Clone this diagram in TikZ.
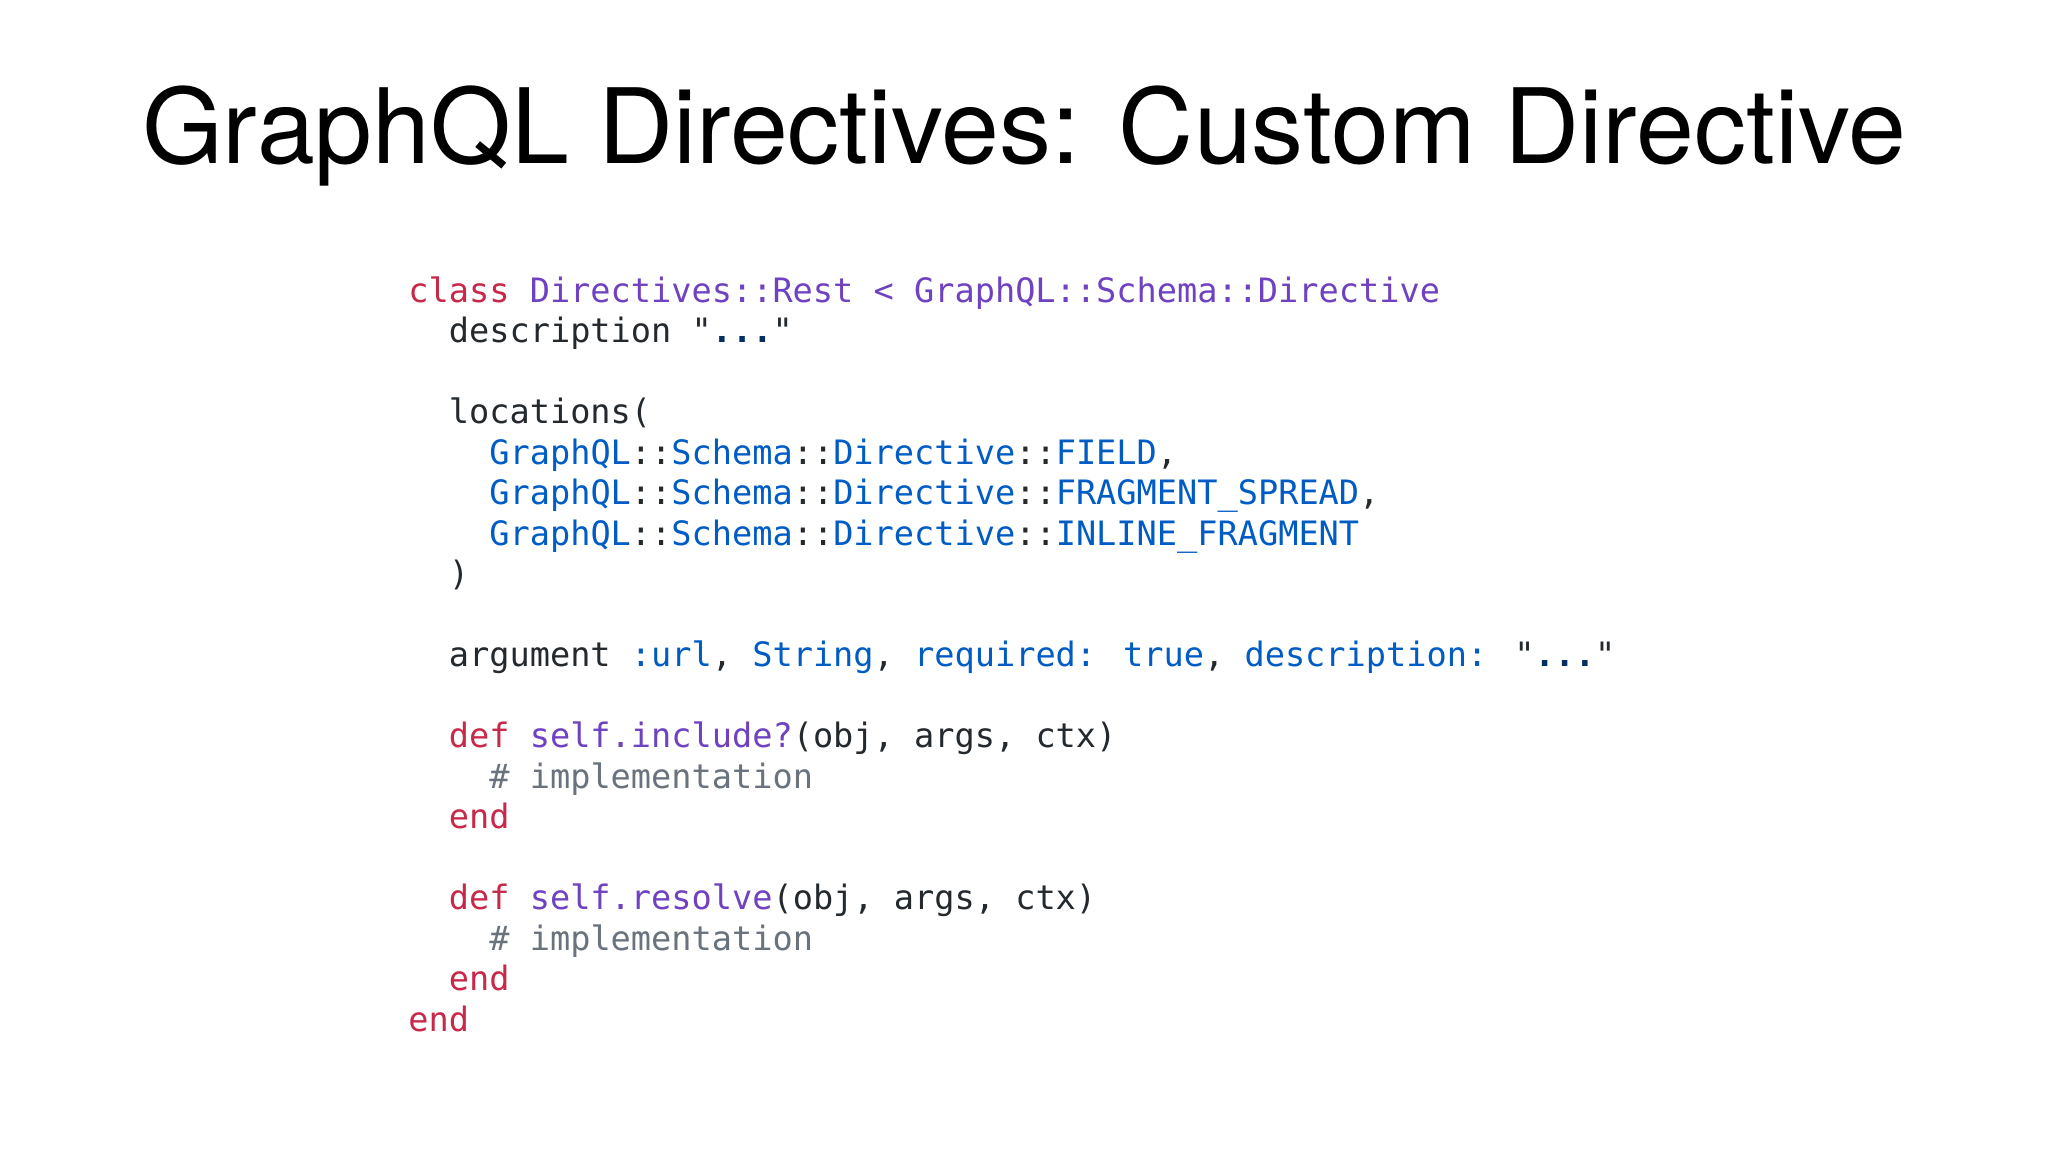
\documentclass[tikz,border=0pt]{standalone}
\usepackage{fontspec}
\setmainfont{TeX Gyre Heros}
\newfontfamily\codefont{DejaVu Sans Mono}
\definecolor{kwc}{HTML}{C8284A}
\definecolor{fnc}{HTML}{6F42C1}
\definecolor{cnc}{HTML}{005CC5}
\definecolor{stc}{HTML}{032F62}
\definecolor{cmc}{HTML}{6A737D}
\definecolor{txc}{HTML}{24292E}
\newcommand{\kw}[1]{\textcolor{kwc}{#1}}
\newcommand{\fn}[1]{\textcolor{fnc}{#1}}
\newcommand{\cn}[1]{\textcolor{cnc}{#1}}
\newcommand{\stq}[1]{\textcolor{stc}{#1}}
\newcommand{\cmt}[1]{\textcolor{cmc}{#1}}
\newcommand{\gsd}{\cn{GraphQL}::\cn{Schema}::\cn{Directive}::}
\begin{document}
\begin{tikzpicture}[x=1pt,y=1pt,
  codeline/.style={anchor=base west,inner sep=0pt,font=\codefont\fontsize{16.8}{20}\selectfont,text=txc}]
\useasboundingbox (0,0) rectangle (1024,-576);
\fill[white] (0,0) rectangle (1024,-576);
\node[anchor=base,inner sep=0pt,font=\fontsize{52}{60}\selectfont] (title) at (512,-81.6) {GraphQL Directives: Custom Directive};
\def\L{20.25}
\def\C{10.12}
\node[codeline] (l0) at (204,-151) {\kw{class} \fn{Directives::Rest} \fn{<} \fn{GraphQL::Schema::Directive}};
\node[codeline] (l1) at (204+2*\C,-151-1*\L) {description "\stq{\textbf{...}}"};
\node[codeline] (l3) at (204+2*\C,-151-3*\L) {locations(};
\node[codeline] (l4) at (204+4*\C,-151-4*\L) {\gsd\cn{FIELD},};
\node[codeline] (l5) at (204+4*\C,-151-5*\L) {\gsd\cn{FRAGMENT\_SPREAD},};
\node[codeline] (l6) at (204+4*\C,-151-6*\L) {\gsd\cn{INLINE\_FRAGMENT}};
\node[codeline] (l7) at (204+2*\C,-151-7*\L) {)};
\node[codeline] (l9) at (204+2*\C,-151-9*\L) {argument \cn{:url}, \cn{String}, \cn{required:} \cn{true}, \cn{description:} "\stq{\textbf{...}}"};
\node[codeline] (l11) at (204+2*\C,-151-11*\L) {\kw{def} \fn{self.include?}(obj, args, ctx)};
\node[codeline] (l12) at (204+4*\C,-151-12*\L) {\cmt{\# implementation}};
\node[codeline] (l13) at (204+2*\C,-151-13*\L) {\kw{end}};
\node[codeline] (l15) at (204+2*\C,-151-15*\L) {\kw{def} \fn{self.resolve}(obj, args, ctx)};
\node[codeline] (l16) at (204+4*\C,-151-16*\L) {\cmt{\# implementation}};
\node[codeline] (l17) at (204+2*\C,-151-17*\L) {\kw{end}};
\node[codeline] (l18) at (204,-151-18*\L) {\kw{end}};
\end{tikzpicture}
\end{document}
